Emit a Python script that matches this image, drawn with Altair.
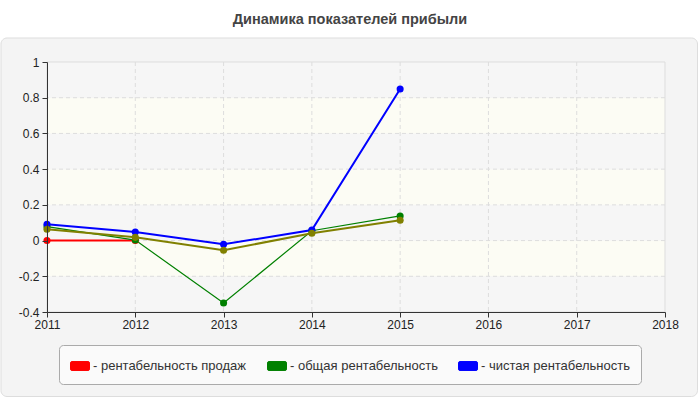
import altair as alt
import pandas as pd

title_text = "Динамика показателей прибыли"
years = [2011, 2012, 2013, 2014, 2015]
sales = [0.0, 0.0, None, None, None]
total = [0.078, 0.003, -0.35, 0.055, 0.138]
net = [0.091, 0.048, -0.021, 0.059, 0.849]
other = [0.063, 0.018, -0.054, 0.041, 0.114]
series_names = ["рентабельность продаж", "общая рентабельность", "чистая рентабельность"]
series_colors = ["#ff0000", "#008000", "#0000ff"]
other_color = "#808000"
x_ticks = [2011, 2012, 2013, 2014, 2015, 2016, 2017, 2018]
y_ticks = [-0.4, -0.2, 0, 0.2, 0.4, 0.6, 0.8, 1]

W, H = 618, 250
FONT = "Liberation Sans"

rows = []
for name, vals in zip(series_names, [sales, total, net]):
    for yr, v in zip(years, vals):
        if v is not None:
            rows.append({"year": yr, "value": v, "series": name})
df = pd.DataFrame(rows)
df_other = pd.DataFrame({"year": years, "value": other})

bands = pd.DataFrame({
    "lo": y_ticks[:-1],
    "hi": y_ticks[1:],
    "fill": ["#f6f6f6" if i % 2 == 0 else "#fcfcf4" for i in range(len(y_ticks) - 1)],
})

xs = alt.Scale(domain=[x_ticks[0], x_ticks[-1]], nice=False, zero=False)
ys = alt.Scale(domain=[y_ticks[0], y_ticks[-1]], nice=False, zero=False)

x_axis = alt.Axis(
    values=x_ticks, format="d", grid=False, tickSize=5, tickColor="#333333",
    domainColor="#333333", labelFont=FONT, labelFontSize=12, labelColor="#222222",
    labelPadding=2, title=None, zindex=1, labelFlush=False, labelOverlap=False,
)
y_axis = alt.Axis(
    values=y_ticks, grid=False, tickSize=5, tickColor="#333333",
    domainColor="#333333", labelFont=FONT, labelFontSize=12, labelColor="#222222",
    labelPadding=3, title=None, zindex=1,
    labelExpr="replace(format(datum.value, '~g'), '\u2212', '-')",
)

one = pd.DataFrame({"a": [0]})

bg = alt.Chart(one).mark_rect(
    fill="#f4f4f4", stroke="#dddddd", strokeWidth=1, cornerRadius=6
).encode(x=alt.value(-46), x2=alt.value(650.5), y=alt.value(-24), y2=alt.value(334.5))

band_layer = alt.Chart(bands).mark_rect().encode(
    y=alt.Y("lo:Q", scale=ys, axis=y_axis),
    y2="hi:Q",
    x=alt.value(0),
    x2=alt.value(W),
    fill=alt.Fill("fill:N", scale=None),
)

border = alt.Chart(one).mark_rect(
    fillOpacity=0, stroke="#dddddd", strokeWidth=1
).encode(x=alt.value(0), x2=alt.value(W), y=alt.value(0), y2=alt.value(H))

vgrid = alt.Chart(pd.DataFrame({"t": x_ticks[1:-1]})).mark_rule(
    color="#dddddd", strokeDash=[4, 3], strokeWidth=1
).encode(x=alt.X("t:Q", scale=xs, axis=x_axis))

hgrid = alt.Chart(pd.DataFrame({"t": y_ticks[1:-1]})).mark_rule(
    color="#dddddd", strokeDash=[4, 3], strokeWidth=1
).encode(y=alt.Y("t:Q", scale=ys, axis=y_axis))

color = alt.Color(
    "series:N",
    scale=alt.Scale(domain=series_names, range=series_colors),
    legend=alt.Legend(
        title=None,
        orient="none",
        legendX=12,
        legendY=283,
        direction="horizontal",
        fillColor="#fafafa",
        strokeColor="#aaaaaa",
        cornerRadius=4,
        padding=11,
        symbolType="M-0.84,-0.47 L0.84,-0.47 Q1,-0.47 1,-0.31 L1,0.31 Q1,0.47 0.84,0.47 L-0.84,0.47 Q-1,0.47 -1,0.31 L-1,-0.31 Q-1,-0.47 -0.84,-0.47 Z",
        symbolSize=361,
        symbolStrokeColor="#999999",
        symbolStrokeWidth=1,
        symbolOpacity=1,
        labelExpr="'- ' + datum.label",
        labelFont=FONT,
        labelFontSize=13,
        labelColor="#333333",
        labelOffset=3,
        columnPadding=18,
    ),
)

lines = alt.Chart(df).mark_line().encode(
    x=alt.X("year:Q", scale=xs, axis=x_axis),
    y=alt.Y("value:Q", scale=ys, axis=y_axis),
    color=color,
    strokeWidth=alt.condition(alt.datum.series == series_names[1], alt.value(1.2), alt.value(2)),
)
pts = alt.Chart(df).mark_point(filled=True, size=50, opacity=1).encode(
    x=alt.X("year:Q", scale=xs, axis=x_axis),
    y=alt.Y("value:Q", scale=ys, axis=y_axis),
    color=color,
)

o_line = alt.Chart(df_other).mark_line(color=other_color, strokeWidth=2).encode(
    x=alt.X("year:Q", scale=xs, axis=x_axis),
    y=alt.Y("value:Q", scale=ys, axis=y_axis),
)
o_pts = alt.Chart(df_other).mark_point(filled=True, size=50, opacity=1, color=other_color).encode(
    x=alt.X("year:Q", scale=xs, axis=x_axis),
    y=alt.Y("value:Q", scale=ys, axis=y_axis),
)

title = alt.Chart(pd.DataFrame({"t": [title_text]})).mark_text(
    font=FONT, fontSize=14.5, fontWeight="bold", color="#444444", align="center", baseline="middle"
).encode(text="t:N", x=alt.value(303), y=alt.value(-42))

chart = alt.layer(
    bg, band_layer, border, vgrid, hgrid, lines, pts, o_line, o_pts, title
).properties(
    width=W,
    height=H,
    autosize=alt.AutoSizeParams(type="none"),
    padding={"left": 47, "top": 62, "right": 35, "bottom": 88},
    background="white",
).configure_view(stroke=None)

chart.save("out.html", embed_options={"renderer": "svg", "actions": False})
